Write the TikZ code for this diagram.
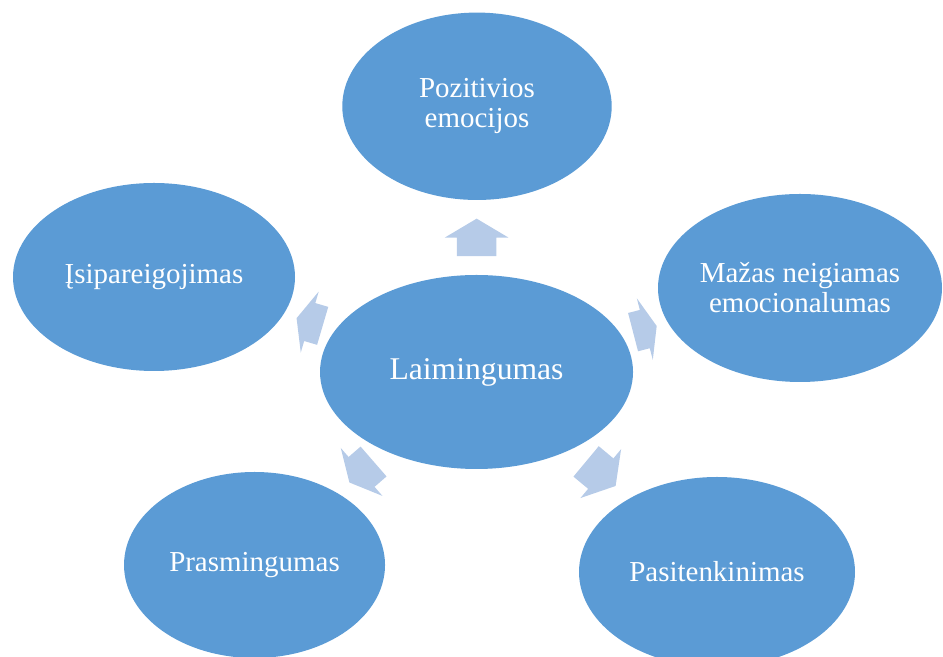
\documentclass[tikz,border=0pt]{standalone}
\usepackage{fontspec}
\setmainfont{Liberation Serif}
\definecolor{bubbleblue}{RGB}{91, 155, 213}
\definecolor{spokeblue}{RGB}{182, 203, 232}
\usetikzlibrary{shapes.geometric, shapes.arrows, calc}

\tikzset{
  bubble/.style={ellipse, fill=bubbleblue, text=white, inner sep=0pt, outer sep=0pt, align=center,
    font=\fontsize{20.6}{21.3}\selectfont},
  spoke/.style={single arrow, fill=spokeblue, draw=none, inner xsep=0pt, inner ysep=0.4875cm, outer sep=0pt,
    single arrow head extend=0.3cm, anchor=tail},
}

\begin{document}
\begin{tikzpicture}
  \useasboundingbox (0, 0) rectangle (23.575, 16.425);

  % Centre bubble
  \node[bubble, minimum width=7.825cm, minimum height=4.85cm, font=\fontsize{22.5}{23}\selectfont] (laim) at (11.913, 7.125) {Laimingumas};

  % Outer ring, clockwise from the top
  \node[bubble, minimum width=6.735cm, minimum height=4.685cm] (pozit) at (11.925, 13.768) {Pozitivios\\emocijos};
  \node[bubble, minimum width=7.1cm, minimum height=4.7cm] (mazas) at (20.0, 9.225) {Mažas neigiamas\\emocionalumas};
  \node[bubble, minimum width=6.9cm, minimum height=4.75cm] (pasit) at (17.925, 2.125) {Pasitenkinimas};
  \node[bubble, minimum width=6.525cm, minimum height=4.65cm] (prasm) at (6.363, 2.3) {Prasmingumas};
  \node[bubble, minimum width=7.05cm, minimum height=4.7cm] (isip) at (3.85, 9.5) {Įsipareigojimas};

  % Block arrows, tail a quarter of the way across each gap
  \node[spoke, minimum height=0.94cm, single arrow tip angle=118.5, rotate=90] (up) at ($(laim.90)!0.25!(pozit.270)$) {};
  \node[spoke, minimum height=0.61cm, single arrow tip angle=137.8, rotate=14.56] (ne) at ($(laim.14.56)!0.25!(mazas.194.56)$) {};
  \node[spoke, minimum height=0.96cm, single arrow tip angle=117.4, rotate=-39.75] (se) at ($(laim.-39.75)!0.25!(pasit.140.25)$) {};
  \node[spoke, minimum height=0.80cm, single arrow tip angle=126.2, rotate=221] (sw) at ($(laim.221)!0.25!(prasm.41)$) {};
  \node[spoke, minimum height=0.68cm, single arrow tip angle=133.3, rotate=163.6] (nw) at ($(laim.163.6)!0.25!(isip.343.6)$) {};
\end{tikzpicture}
\end{document}
